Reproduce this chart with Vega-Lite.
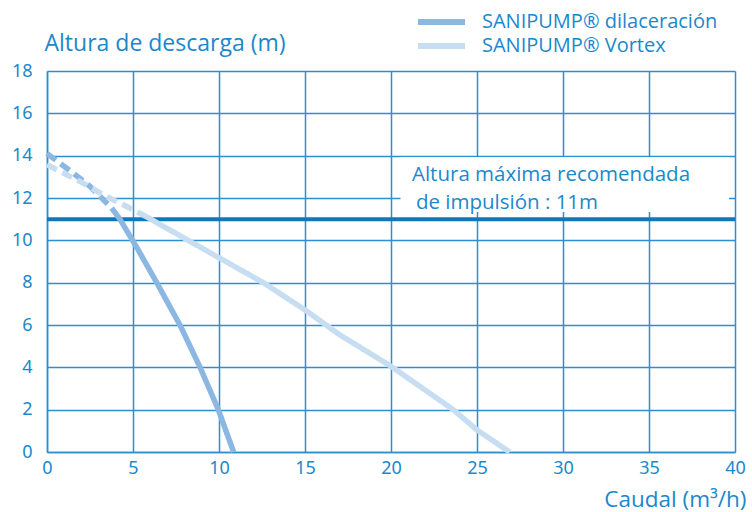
{
  "$schema": "https://vega.github.io/schema/vega-lite/v6.json",
  "autosize": {"type": "none"},
  "width": 688,
  "height": 381,
  "padding": {"left": 47, "top": 71, "right": 17, "bottom": 60},
  "background": "white",
  "config": {
    "view": {"stroke": null},
    "font": "Open Sans"
  },
  "datasets": {
    "curves": [
      {"serie": "SANIPUMP® dilaceración", "tramo": "dashed", "caudal": 0, "altura": 14.1},
      {"serie": "SANIPUMP® dilaceración", "tramo": "dashed", "caudal": 1.53, "altura": 13.17},
      {"serie": "SANIPUMP® dilaceración", "tramo": "dashed", "caudal": 2.5, "altura": 12.55},
      {"serie": "SANIPUMP® dilaceración", "tramo": "dashed", "caudal": 3.18, "altura": 12.0},
      {"serie": "SANIPUMP® dilaceración", "tramo": "dashed", "caudal": 3.76, "altura": 11.52},
      {"serie": "SANIPUMP® dilaceración", "tramo": "solid", "caudal": 3.76, "altura": 11.52},
      {"serie": "SANIPUMP® dilaceración", "tramo": "solid", "caudal": 4.24, "altura": 11.0},
      {"serie": "SANIPUMP® dilaceración", "tramo": "solid", "caudal": 5.3, "altura": 9.55},
      {"serie": "SANIPUMP® dilaceración", "tramo": "solid", "caudal": 6.38, "altura": 8.0},
      {"serie": "SANIPUMP® dilaceración", "tramo": "solid", "caudal": 7.73, "altura": 6.0},
      {"serie": "SANIPUMP® dilaceración", "tramo": "solid", "caudal": 8.9, "altura": 4.0},
      {"serie": "SANIPUMP® dilaceración", "tramo": "solid", "caudal": 9.96, "altura": 2.0},
      {"serie": "SANIPUMP® dilaceración", "tramo": "solid", "caudal": 10.85, "altura": 0.0},
      {"serie": "SANIPUMP® Vortex", "tramo": "dashed", "caudal": 0, "altura": 13.57},
      {"serie": "SANIPUMP® Vortex", "tramo": "dashed", "caudal": 1.92, "altura": 12.78},
      {"serie": "SANIPUMP® Vortex", "tramo": "dashed", "caudal": 3.27, "altura": 12.15},
      {"serie": "SANIPUMP® Vortex", "tramo": "dashed", "caudal": 5.21, "altura": 11.36},
      {"serie": "SANIPUMP® Vortex", "tramo": "dashed", "caudal": 5.7, "altura": 11.15},
      {"serie": "SANIPUMP® Vortex", "tramo": "solid", "caudal": 5.7, "altura": 11.15},
      {"serie": "SANIPUMP® Vortex", "tramo": "solid", "caudal": 10.06, "altura": 9.15},
      {"serie": "SANIPUMP® Vortex", "tramo": "solid", "caudal": 12.58, "altura": 8.0},
      {"serie": "SANIPUMP® Vortex", "tramo": "solid", "caudal": 15.0, "altura": 6.71},
      {"serie": "SANIPUMP® Vortex", "tramo": "solid", "caudal": 17.03, "altura": 5.53},
      {"serie": "SANIPUMP® Vortex", "tramo": "solid", "caudal": 20.0, "altura": 4.05},
      {"serie": "SANIPUMP® Vortex", "tramo": "solid", "caudal": 23.62, "altura": 2.0},
      {"serie": "SANIPUMP® Vortex", "tramo": "solid", "caudal": 25.0, "altura": 1.04},
      {"serie": "SANIPUMP® Vortex", "tramo": "solid", "caudal": 26.9, "altura": 0.0}
    ],
    "box": [{"x1": 20.55, "x2": 39.65, "y1": 11.34, "y2": 13.94}],
    "limite": [{"altura": 11}],
    "nota": [
      {"texto": "Altura máxima recomendada", "caudal": 21.22, "altura": 12.82},
      {"texto": "de impulsión : 11m", "caudal": 21.45, "altura": 11.47}
    ]
  },
  "encoding": {
    "x": {
      "type": "quantitative",
      "scale": {"domain": [0, 40], "nice": false},
      "axis": {
        "values": [0, 5, 10, 15, 20, 25, 30, 35, 40],
        "title": "Caudal (m³/h)",
        "titleFont": "Open Sans",
        "titleFontSize": 22.5,
        "titleFontWeight": "normal",
        "titleColor": "#1b88cc",
        "titleAnchor": "end",
        "titleAlign": "right",
        "titleX": 699,
        "titleY": 54,
        "titleBaseline": "alphabetic",
        "labelFont": "Noto Sans",
        "labelFontSize": 18,
        "labelColor": "#1b88cc",
        "labelPadding": 7,
        "labelFlush": false,
        "labelOverlap": false,
        "ticks": false,
        "grid": true,
        "gridColor": "#2b8fd3",
        "gridWidth": 1.5,
        "gridOpacity": 1,
        "domainColor": "#2b8fd3",
        "domainWidth": 1.5
      }
    },
    "y": {
      "type": "quantitative",
      "scale": {"domain": [0, 18], "nice": false},
      "axis": {
        "values": [0, 2, 4, 6, 8, 10, 12, 14, 16, 18],
        "title": "Altura de descarga (m)",
        "titleFont": "Open Sans",
        "titleFontSize": 23,
        "titleFontWeight": "normal",
        "titleColor": "#1b88cc",
        "titleAngle": 0,
        "titleAlign": "left",
        "titleBaseline": "alphabetic",
        "titleX": -3,
        "titleY": -21,
        "labelFont": "Noto Sans",
        "labelFontSize": 18,
        "labelColor": "#1b88cc",
        "labelPadding": 15,
        "labelFlush": false,
        "labelOverlap": false,
        "ticks": false,
        "grid": true,
        "gridColor": "#2b8fd3",
        "gridWidth": 1.5,
        "gridOpacity": 1,
        "domainColor": "#2b8fd3",
        "domainWidth": 1.5
      }
    }
  },
  "layer": [
    {
      "data": {"name": "box"},
      "mark": {"type": "rect", "fill": "white", "stroke": null},
      "encoding": {
        "x": {"field": "x1", "type": "quantitative"},
        "x2": {"field": "x2"},
        "y": {"field": "y1", "type": "quantitative"},
        "y2": {"field": "y2"}
      }
    },
    {
      "data": {"name": "limite"},
      "mark": {"type": "rule", "color": "#0b78bf", "strokeWidth": 4},
      "encoding": {
        "y": {"field": "altura", "type": "quantitative"}
      }
    },
    {
      "data": {"name": "curves"},
      "mark": {"type": "line", "strokeWidth": 5.5, "strokeCap": "butt"},
      "encoding": {
        "x": {"field": "caudal", "type": "quantitative"},
        "y": {"field": "altura", "type": "quantitative"},
        "color": {
          "field": "serie",
          "type": "nominal",
          "scale": {
            "domain": ["SANIPUMP® dilaceración", "SANIPUMP® Vortex"],
            "range": ["#8cb7e2", "#c6ddf2"]
          },
          "legend": {
            "title": null,
            "orient": "none",
            "legendX": 368,
            "legendY": -60,
            "symbolType": "stroke",
            "symbolSize": 2209,
            "symbolStrokeWidth": 6,
            "clipHeight": 22,
            "labelFont": "Open Sans",
            "labelFontSize": 20,
            "labelColor": "#1b88cc",
            "labelOffset": 14,
            "rowPadding": 2,
            "labelLimit": 400
          }
        },
        "strokeDash": {
          "field": "tramo",
          "type": "nominal",
          "scale": {"domain": ["solid", "dashed"], "range": [[1, 0], [11, 6]]},
          "legend": null
        },
        "detail": {"field": "tramo"}
      }
    },
    {
      "data": {"name": "nota"},
      "mark": {"type": "text", "align": "left", "baseline": "alphabetic", "font": "Open Sans", "fontSize": 20.5, "color": "#1b88cc"},
      "encoding": {
        "x": {"field": "caudal", "type": "quantitative"},
        "y": {"field": "altura", "type": "quantitative"},
        "text": {"field": "texto"}
      }
    }
  ]
}
